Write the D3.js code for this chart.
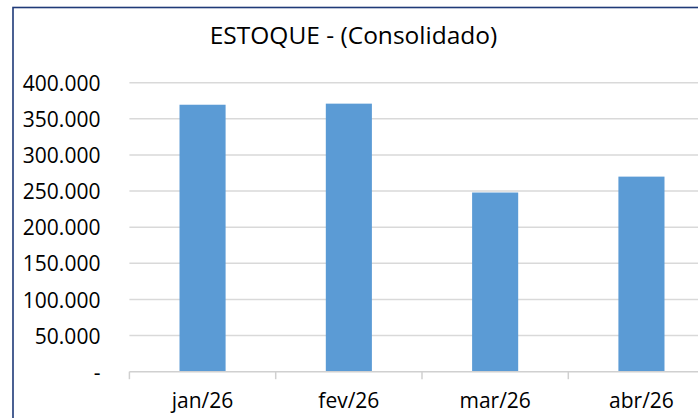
<!DOCTYPE html>
<html lang="pt">
<head>
<meta charset="UTF-8">
<script src="https://d3js.org/d3.v7.min.js"></script>
<style>
    body { margin: 0; background: #fff; }
    text { font-family: "Open Sans", sans-serif; fill: #000; }
    .grid line { stroke: #d9d9d9; stroke-width: 1.5px; }
</style>
</head>
<body>
<div id="chart"></div>
<script>
    // dados
    const meses = ["jan/26", "fev/26", "mar/26", "abr/26"];
    const estoque = [369500, 371000, 248000, 270000];
    const yTicks = [0, 50000, 100000, 150000, 200000, 250000, 300000, 350000, 400000];
    const yTickLabels = ["-", "50.000", "100.000", "150.000", "200.000", "250.000", "300.000", "350.000", "400.000"];

    const W = 698, H = 418;
    const plot = {left: 129.4, right: 714.6, top: 82.7, bottom: 371.7};

    const svg = d3.select("#chart").append("svg")
        .attr("width", W).attr("height", H);

    // moldura
    svg.append("rect")
        .attr("x", 13).attr("y", 7.5)
        .attr("width", 720).attr("height", 440)
        .attr("fill", "#fff")
        .attr("stroke", "#1f3a78").attr("stroke-width", 1.6);

    svg.append("text")
        .attr("x", 353.5).attr("y", 43.5)
        .attr("text-anchor", "middle")
        .style("font-size", "24.5px")
        .text("ESTOQUE - (Consolidado)");

    const x = d3.scaleBand().domain(meses).range([plot.left, plot.right]).padding(0);
    const y = d3.scaleLinear().domain([0, 400000]).range([plot.bottom, plot.top]);

    // linhas de grade
    svg.append("g").attr("class", "grid")
        .selectAll("line")
        .data(yTicks.filter(d => d > 0))
        .enter().append("line")
        .attr("x1", plot.left).attr("x2", W + 20)
        .attr("y1", d => y(d)).attr("y2", d => y(d));

    // eixo Y (apenas rótulos)
    const yAxis = svg.append("g")
        .attr("transform", `translate(${plot.left},0)`)
        .call(d3.axisLeft(y).tickValues(yTicks).tickSize(0).tickPadding(29)
            .tickFormat((d, i) => yTickLabels[i]));
    yAxis.select(".domain").remove();
    yAxis.selectAll("text").style("font-size", "21px").attr("dy", "0.36em");

    // barras
    const barW = x.bandwidth() * 0.315;
    svg.selectAll(".bar")
        .data(estoque)
        .enter().append("rect")
        .attr("class", "bar")
        .attr("x", (d, i) => x(meses[i]) + (x.bandwidth() - barW) / 2)
        .attr("y", d => y(d))
        .attr("width", barW)
        .attr("height", d => plot.bottom - y(d))
        .attr("fill", "#5b9bd5");

    // eixo X
    const xAxis = svg.append("g")
        .attr("transform", `translate(0,${plot.bottom})`)
        .call(d3.axisBottom(x).tickSize(0).tickPadding(21));
    xAxis.select(".domain").attr("stroke", "#d0d0d0").attr("stroke-width", 1.5)
        .attr("d", `M${plot.left},0H${plot.right}`);
    xAxis.selectAll("text").style("font-size", "21px").attr("dy", "0.71em");

    svg.append("g")
        .selectAll("line")
        .data(meses.map(m => x(m)))
        .enter().append("line")
        .attr("x1", d => d).attr("x2", d => d)
        .attr("y1", plot.bottom).attr("y2", plot.bottom + 7.5)
        .attr("stroke", "#d0d0d0").attr("stroke-width", 1.5);
</script>
</body>
</html>
